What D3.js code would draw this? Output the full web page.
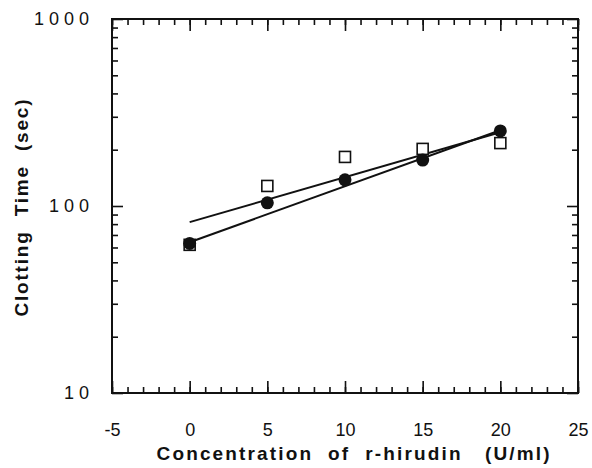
<!DOCTYPE html>
<html>
<head>
<meta charset="utf-8">
<style>
  body { margin: 0; background: #fff; }
  svg { display: block; }
  text { font-family: "Liberation Sans", Arial, Helvetica, sans-serif; fill: #111; }
</style>
</head>
<body>
<svg class="chart"></svg>

<script src="https://d3js.org/d3.v7.min.js"></script>
<script>
// values
conc = [0, 5, 10, 15, 20]               // U/ml
circleTimes = [63, 104, 138, 176, 252]  // filled circles (sec)
squareTimes = [62, 128, 183, 202, 217]  // open squares (sec)

fitX = [0, 20]
circleFit = [64, 254]
squareFit = [82, 248]

xMajor = [-5, 0, 5, 10, 15, 20, 25]
xMinor = d3.range(-5, 26, 1)
yMajor = [10, 100, 1000]
yMinor = [20, 30, 40, 50, 60, 70, 80, 90, 200, 300, 400, 500, 600, 700, 800, 900]

width = 592
height = 468
margin = ({top: 19, right: 14, bottom: 75, left: 112})

x = d3.scaleLinear()
    .domain([-5, 25])
    .range([margin.left, width - margin.right])

y = d3.scaleLog()
    .domain([10, 1000])
    .range([height - margin.bottom, margin.top])

const svg = d3.select("svg")
    .attr("width", width)
    .attr("height", height)
    .attr("viewBox", [0, 0, width, height]);

const noLabel = () => "";
const plain = d => String(d);   // keep the ascii hyphen in "-5"

// frame
svg.append("rect")
    .attr("x", x(-5))
    .attr("y", y(1000))
    .attr("width", x(25) - x(-5))
    .attr("height", y(10) - y(1000))
    .attr("fill", "none")
    .attr("stroke", "#111")
    .attr("stroke-width", 2);

// bottom ticks, pointing inward
svg.append("g")
    .attr("transform", `translate(0,${y(10)})`)
    .call(d3.axisBottom(x).tickValues(xMinor).tickSizeInner(-6).tickSizeOuter(0).tickFormat(noLabel))
    .call(g => g.select(".domain").remove());

svg.append("g")
    .attr("transform", `translate(0,${y(10)})`)
    .call(d3.axisBottom(x).tickValues(xMajor).tickSizeInner(-12).tickSizeOuter(0).tickPadding(30).tickFormat(plain))
    .call(g => g.select(".domain").remove())
    .call(g => g.selectAll("text").attr("font-size", 18).attr("font-family", null));

// top ticks
svg.append("g")
    .attr("transform", `translate(0,${y(1000)})`)
    .call(d3.axisTop(x).tickValues(xMinor).tickSizeInner(-6).tickSizeOuter(0).tickFormat(noLabel))
    .call(g => g.select(".domain").remove());

svg.append("g")
    .attr("transform", `translate(0,${y(1000)})`)
    .call(d3.axisTop(x).tickValues(xMajor).tickSizeInner(-12).tickSizeOuter(0).tickFormat(noLabel))
    .call(g => g.select(".domain").remove());

// left ticks
svg.append("g")
    .attr("transform", `translate(${x(-5)},0)`)
    .call(d3.axisLeft(y).tickValues(yMinor).tickSizeInner(-6).tickSizeOuter(0).tickFormat(noLabel))
    .call(g => g.select(".domain").remove());

// widely spaced digits, right edge about 23px left of the frame
svg.append("g")
    .attr("transform", `translate(${x(-5)},0)`)
    .call(d3.axisLeft(y).tickValues(yMajor).tickSizeInner(-11).tickSizeOuter(0).tickFormat(plain))
    .call(g => g.select(".domain").remove())
    .call(g => g.selectAll("text")
        .attr("font-size", 18)
        .attr("font-family", null)
        .attr("text-anchor", "start")
        .attr("letter-spacing", 5)
        .attr("x", d => -23 - (String(d).length * 15 - 5)));

// right ticks
svg.append("g")
    .attr("transform", `translate(${x(25)},0)`)
    .call(d3.axisRight(y).tickValues(yMinor).tickSizeInner(-6).tickSizeOuter(0).tickFormat(noLabel))
    .call(g => g.select(".domain").remove());

svg.append("g")
    .attr("transform", `translate(${x(25)},0)`)
    .call(d3.axisRight(y).tickValues(yMajor).tickSizeInner(-11).tickSizeOuter(0).tickFormat(noLabel))
    .call(g => g.select(".domain").remove());

svg.selectAll(".tick line").attr("stroke", "#111").attr("stroke-width", 1.6);

// fitted lines
line = d3.line()
    .x(d => x(d[0]))
    .y(d => y(d[1]));

[circleFit, squareFit].forEach(fit => {
  svg.append("path")
      .datum(d3.zip(fitX, fit))
      .attr("d", line)
      .attr("fill", "none")
      .attr("stroke", "#111")
      .attr("stroke-width", 2);
});

// open squares
svg.append("g")
  .selectAll("rect")
  .data(d3.zip(conc, squareTimes))
  .join("rect")
    .attr("x", d => x(d[0]) - 5.5)
    .attr("y", d => y(d[1]) - 5.5)
    .attr("width", 11)
    .attr("height", 11)
    .attr("fill", "#fff")
    .attr("stroke", "#111")
    .attr("stroke-width", 1.6);

// filled circles
svg.append("g")
  .selectAll("circle")
  .data(d3.zip(conc, circleTimes))
  .join("circle")
    .attr("cx", d => x(d[0]))
    .attr("cy", d => y(d[1]))
    .attr("r", 6.5)
    .attr("fill", "#111");

// axis titles
svg.append("text")
    .attr("x", 353)
    .attr("y", 460)
    .attr("text-anchor", "middle")
    .attr("font-size", 19)
    .attr("font-weight", "bold")
    .attr("textLength", 393)
    .attr("lengthAdjust", "spacing")
    .style("white-space", "pre")
    .text("Concentration  of  r-hirudin   (U/ml)");

svg.append("text")
    .attr("transform", "translate(28,208) rotate(-90)")
    .attr("text-anchor", "middle")
    .attr("font-size", 19)
    .attr("font-weight", "bold")
    .attr("textLength", 217)
    .attr("lengthAdjust", "spacing")
    .style("white-space", "pre")
    .text("Clotting  Time  (sec)");
</script>
</body>
</html>
